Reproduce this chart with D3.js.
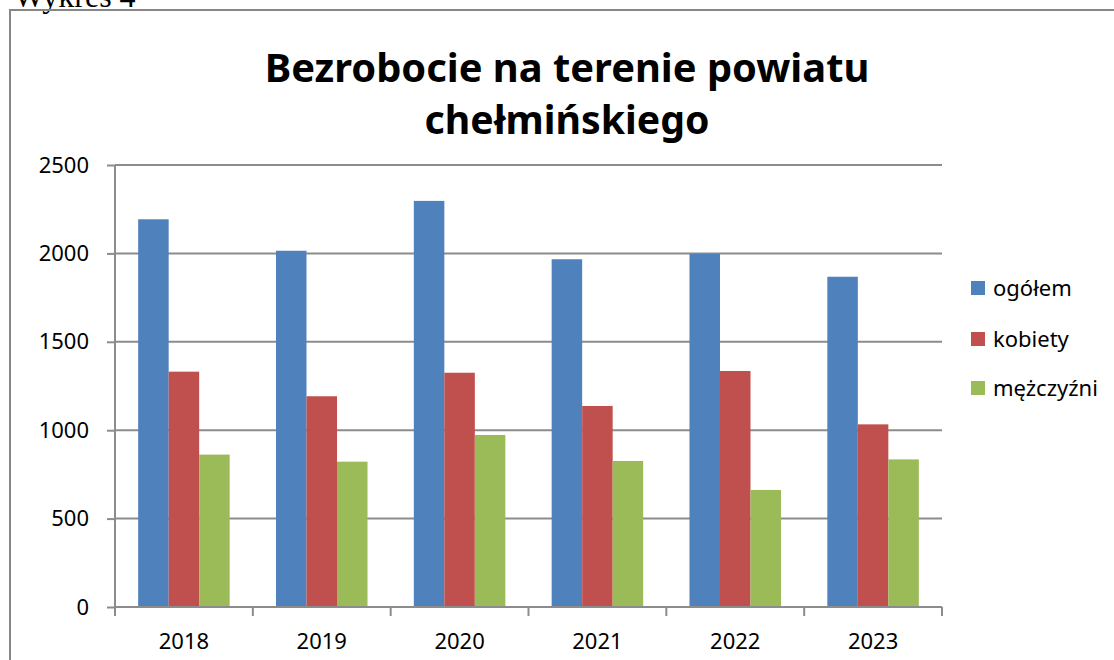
<!DOCTYPE html>
<html>
<head>
<meta charset="utf-8">
<script src="https://cdn.jsdelivr.net/npm/d3@7"></script>
<style>
  body { margin: 0; background: #fff; }
  text { font-family: "Noto Sans", "Open Sans", sans-serif; fill: #000; }
</style>
</head>
<body>
<div class="chart"></div>
<script>
// data
var years = ['2018', '2019', '2020', '2021', '2022', '2023'];
var seriesNames = ['ogółem', 'kobiety', 'mężczyźni'];
var ogolem = [2193, 2015, 2297, 1967, 1998, 1868];
var kobiety = [1331, 1192, 1325, 1137, 1335, 1033];
var mezczyzni = [862, 822, 973, 826, 662, 835];
var yTicks = [0, 500, 1000, 1500, 2000, 2500];
var colors = ['#4F81BD', '#C0504D', '#9BBB59'];

var seriesValues = [ogolem, kobiety, mezczyzni];

var opts = {
  width: 1114,
  height: 660,
  left: 115,
  right: 942,
  top: 165,
  bottom: 607
};

var svg = d3.select('.chart').append('svg')
  .attr('width', opts.width)
  .attr('height', opts.height);

// caption above the chart box (only its lower part shows in the original)
svg.append('text')
  .attr('x', 14)
  .attr('y', 7)
  .style('font-family', '"Liberation Serif", serif')
  .style('font-size', '32px')
  .text('Wykres 4');

// chart frame
svg.append('rect')
  .attr('x', 10).attr('y', 10)
  .attr('width', 1200).attr('height', 700)
  .attr('fill', 'none')
  .attr('stroke', '#868686')
  .attr('stroke-width', 2);

var x0 = d3.scaleBand()
  .domain(years)
  .range([opts.left, opts.right])
  .padding(0);

var gap = x0.bandwidth() * 0.336;
var x1 = d3.scaleBand()
  .domain(seriesNames)
  .range([gap / 2, x0.bandwidth() - gap / 2])
  .padding(0);

var y = d3.scaleLinear()
  .domain([0, 2500])
  .range([opts.bottom, opts.top]);

// gridlines
svg.append('g').selectAll('line')
  .data(yTicks.filter(function (t) { return t > 0; }))
  .enter().append('line')
  .attr('x1', opts.left).attr('x2', opts.right)
  .attr('y1', function (t) { return y(t); })
  .attr('y2', function (t) { return y(t); })
  .attr('stroke', '#8c8c8c')
  .attr('stroke-width', 2);

// bars
var rows = years.map(function (yr, i) {
  return seriesNames.map(function (s, j) {
    return { year: yr, series: s, value: seriesValues[j][i], color: colors[j] };
  });
});

svg.append('g').selectAll('g')
  .data(rows)
  .enter().append('g')
  .attr('transform', function (d) { return 'translate(' + x0(d[0].year) + ',0)'; })
  .selectAll('rect')
  .data(function (d) { return d; })
  .enter().append('rect')
  .attr('x', function (d) { return x1(d.series); })
  .attr('y', function (d) { return y(d.value); })
  .attr('width', x1.bandwidth())
  .attr('height', function (d) { return y(0) - y(d.value); })
  .attr('fill', function (d) { return d.color; });

// y axis
var yAxis = svg.append('g')
  .attr('transform', 'translate(' + opts.left + ',0)')
  .call(d3.axisLeft(y).tickValues(yTicks).tickFormat(d3.format('d')).tickSize(8).tickPadding(18));
yAxis.selectAll('path, line').attr('stroke', '#8c8c8c').attr('stroke-width', 2);
yAxis.select('.domain').attr('d', 'M0,' + opts.top + 'V' + opts.bottom);
yAxis.selectAll('text').style('font-size', '22px').style('font-family', '"Noto Sans", sans-serif').attr('fill', '#000');

// x axis, ticks on category boundaries
var xAxisG = svg.append('g');
xAxisG.append('line')
  .attr('x1', opts.left).attr('x2', opts.right)
  .attr('y1', opts.bottom).attr('y2', opts.bottom)
  .attr('stroke', '#8c8c8c').attr('stroke-width', 2);
var bounds = years.map(function (yr) { return x0(yr); }).concat([opts.right]);
xAxisG.selectAll('.tick')
  .data(bounds)
  .enter().append('line')
  .attr('x1', function (d) { return d; })
  .attr('x2', function (d) { return d; })
  .attr('y1', opts.bottom).attr('y2', opts.bottom + 9)
  .attr('stroke', '#8c8c8c').attr('stroke-width', 2);
xAxisG.selectAll('text')
  .data(years)
  .enter().append('text')
  .attr('x', function (d) { return x0(d) + x0.bandwidth() / 2; })
  .attr('y', 649)
  .attr('text-anchor', 'middle')
  .style('font-size', '22px')
  .text(function (d) { return d; });

// title, two lines, fitted to the width of the original
var titleLines = ['Bezrobocie na terenie powiatu', 'chełmińskiego'];
var titleWidths = [605, 285];
var title = svg.append('g');
title.selectAll('text')
  .data(titleLines)
  .enter().append('text')
  .attr('x', 567)
  .attr('y', function (d, i) { return 82 + i * 52; })
  .attr('text-anchor', 'middle')
  .style('font-weight', 'bold')
  .style('font-size', '40px')
  .text(function (d) { return d; })
  .each(function (d, i) {
    var w = this.getComputedTextLength();
    var fs = 40 * titleWidths[i] / w;
    d3.select(this).style('font-size', Math.min(fs, 44) + 'px');
  });

// legend
var legend = svg.append('g').attr('transform', 'translate(971,0)');
var legendY = [288, 339, 388];
var items = legend.selectAll('g')
  .data(seriesNames)
  .enter().append('g')
  .attr('transform', function (d, i) { return 'translate(0,' + legendY[i] + ')'; });
items.append('rect')
  .attr('x', 0).attr('y', -7)
  .attr('width', 14).attr('height', 14)
  .attr('fill', function (d, i) { return colors[i]; });
items.append('text')
  .attr('x', 22)
  .attr('y', 8)
  .style('font-size', '22px')
  .text(function (d) { return d; });
</script>
</body>
</html>
